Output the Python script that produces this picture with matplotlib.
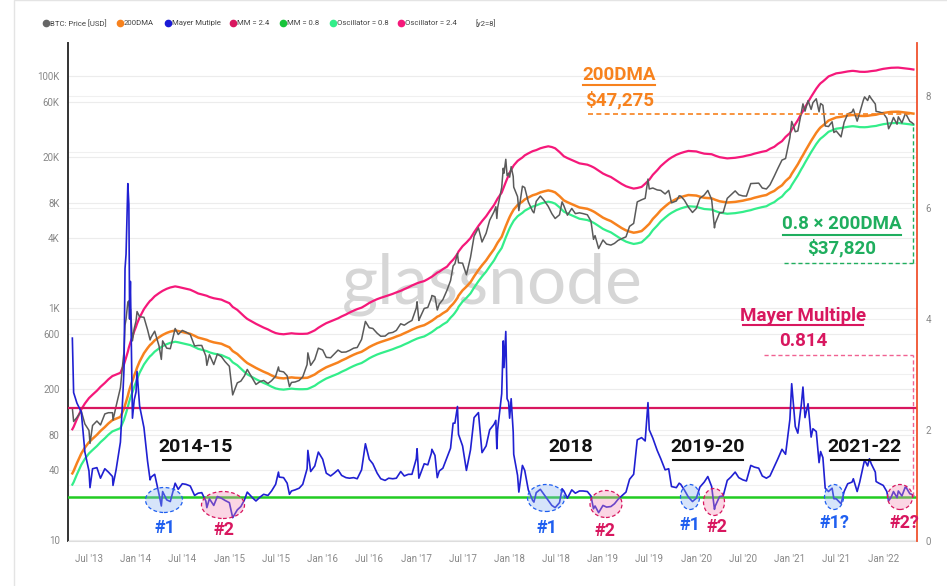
import matplotlib
matplotlib.use("Agg")
import matplotlib.pyplot as plt
import pandas as pd
from matplotlib.patches import Ellipse, Rectangle
from matplotlib.lines import Line2D

# ---- data (BTC price / 200DMA / Mayer multiple) ----
dates = [
    # 2013
    '2013-04-27', '2013-05-02', '2013-05-15', '2013-06-01', '2013-06-15', '2013-07-01', '2013-07-05',
    '2013-07-15', '2013-08-01', '2013-08-15', '2013-09-01', '2013-09-15', '2013-10-01', '2013-10-03',
    '2013-10-15', '2013-11-01', '2013-11-10', '2013-11-15', '2013-11-19', '2013-11-23', '2013-11-30',
    '2013-12-04', '2013-12-07', '2013-12-10', '2013-12-18', '2013-12-25',
    # 2014
    '2014-01-01', '2014-01-05', '2014-01-15', '2014-02-01', '2014-02-15', '2014-02-25', '2014-03-01',
    '2014-03-15', '2014-04-01', '2014-04-10', '2014-04-15', '2014-05-01', '2014-05-15', '2014-06-03',
    '2014-06-15', '2014-07-01', '2014-07-15', '2014-08-01', '2014-08-18', '2014-09-01', '2014-09-15',
    '2014-10-01', '2014-10-05', '2014-10-15', '2014-11-01', '2014-11-15', '2014-12-01', '2014-12-15',
    # 2015
    '2015-01-01', '2015-01-14', '2015-02-01', '2015-02-15', '2015-03-01', '2015-03-12', '2015-04-01',
    '2015-04-15', '2015-05-01', '2015-05-15', '2015-06-01', '2015-06-15', '2015-07-01', '2015-07-12',
    '2015-07-15', '2015-08-01', '2015-08-15', '2015-08-24', '2015-09-01', '2015-09-15', '2015-10-01',
    '2015-10-15', '2015-11-01', '2015-11-04', '2015-11-15', '2015-12-01', '2015-12-15',
    # 2016
    '2016-01-01', '2016-01-15', '2016-02-01', '2016-02-15', '2016-03-01', '2016-03-15', '2016-04-01',
    '2016-04-15', '2016-05-01', '2016-05-15', '2016-06-01', '2016-06-16', '2016-07-01', '2016-07-15',
    '2016-08-01', '2016-08-15', '2016-09-01', '2016-09-15', '2016-10-01', '2016-10-15', '2016-11-01',
    '2016-11-15', '2016-12-01', '2016-12-15',
    # 2017
    '2017-01-01', '2017-01-04', '2017-01-11', '2017-01-15', '2017-02-01', '2017-02-15', '2017-03-01',
    '2017-03-03', '2017-03-15', '2017-03-24', '2017-04-01', '2017-04-15', '2017-05-01', '2017-05-15',
    '2017-05-25', '2017-06-01', '2017-06-11', '2017-06-15', '2017-07-01', '2017-07-16', '2017-08-01',
    '2017-08-15', '2017-09-01', '2017-09-15', '2017-10-01', '2017-10-15', '2017-11-01', '2017-11-08',
    '2017-11-12', '2017-11-15', '2017-12-01', '2017-12-07', '2017-12-10', '2017-12-17', '2017-12-22',
    '2017-12-28',
    # 2018
    '2018-01-01', '2018-01-07', '2018-01-15', '2018-01-17', '2018-02-01', '2018-02-06', '2018-02-20',
    '2018-03-01', '2018-03-15', '2018-04-01', '2018-04-06', '2018-04-15', '2018-05-01', '2018-05-15',
    '2018-06-01', '2018-06-15', '2018-06-28', '2018-07-15', '2018-07-25', '2018-08-01', '2018-08-15',
    '2018-09-01', '2018-09-15', '2018-10-01', '2018-10-15', '2018-11-01', '2018-11-15', '2018-11-25',
    '2018-12-01', '2018-12-15',
    # 2019
    '2019-01-01', '2019-01-15', '2019-02-01', '2019-02-15', '2019-03-01', '2019-03-15', '2019-04-01',
    '2019-04-15', '2019-05-01', '2019-05-15', '2019-06-01', '2019-06-15', '2019-06-26', '2019-07-01',
    '2019-07-15', '2019-08-01', '2019-08-15', '2019-09-01', '2019-09-15', '2019-09-26', '2019-10-15',
    '2019-10-26', '2019-11-01', '2019-11-15', '2019-12-01', '2019-12-17',
    # 2020
    '2020-01-01', '2020-01-15', '2020-02-01', '2020-02-15', '2020-03-01', '2020-03-12', '2020-03-15',
    '2020-04-01', '2020-04-15', '2020-05-01', '2020-05-15', '2020-06-01', '2020-06-15', '2020-07-01',
    '2020-07-15', '2020-08-01', '2020-08-15', '2020-09-01', '2020-09-15', '2020-10-01', '2020-10-15',
    '2020-11-01', '2020-11-15', '2020-12-01', '2020-12-15',
    # 2021
    '2021-01-01', '2021-01-08', '2021-01-15', '2021-01-22', '2021-02-01', '2021-02-15', '2021-02-21',
    '2021-03-01', '2021-03-13', '2021-03-25', '2021-04-01', '2021-04-14', '2021-04-25', '2021-05-01',
    '2021-05-10', '2021-05-19', '2021-06-01', '2021-06-15', '2021-06-22', '2021-07-01', '2021-07-20',
    '2021-08-01', '2021-08-15', '2021-09-01', '2021-09-06', '2021-09-21', '2021-10-01', '2021-10-15',
    '2021-10-20', '2021-11-01', '2021-11-08', '2021-11-15', '2021-12-01', '2021-12-04', '2021-12-15',
    # 2022
    '2022-01-01', '2022-01-15', '2022-01-22', '2022-02-01', '2022-02-10', '2022-02-24', '2022-03-01',
    '2022-03-15', '2022-03-28', '2022-04-01', '2022-04-15', '2022-04-22', '2022-04-29',
]

price = [
    137, 105, 114, 129, 100, 88, 68, 97, 106, 98, 122, 125, 125, 108, 142, 205, 330, 420, 710, 800,
    1125, 1150, 800, 980, 520, 665,
    770, 930, 840, 830, 650, 530, 560, 630, 470, 360, 520, 450, 445, 665, 590, 640, 620, 590, 470,
    475, 475, 385, 320, 395, 325, 400, 380, 345,
    314, 178, 226, 234, 260, 295, 247, 219, 232, 237, 223, 236, 258, 310, 286, 281, 260, 210, 228,
    230, 237, 255, 325, 410, 320, 360, 450,
    434, 375, 372, 400, 433, 415, 417, 430, 450, 456, 535, 765, 675, 665, 605, 570, 572, 606, 615,
    640, 730, 710, 750, 780,
    1000, 1130, 780, 820, 990, 1010, 1220, 1280, 1250, 960, 1080, 1180, 1420, 1720, 2300, 2400, 2950,
    2450, 2430, 1930, 2730, 4150, 4900, 3700, 4400, 5700, 6750, 7450, 5900, 7300, 10900, 16000,
    14500, 19100, 13800, 14500,
    13400, 16500, 13600, 11000, 9100, 6900, 11200, 10900, 8200, 6800, 6600, 8300, 9200, 8500, 7500,
    6500, 5900, 6350, 8200, 7600, 6300, 7200, 6500, 6600, 6500, 6350, 5600, 3900, 4200, 3250,
    3850, 3550, 3480, 3600, 3820, 3950, 4100, 5050, 5350, 8200, 8550, 8800, 12900, 10600, 10800,
    10400, 10300, 9600, 10300, 8050, 8350, 9250, 9200, 8500, 7400, 6650,
    7200, 8800, 9400, 10300, 8600, 4900, 5360, 6600, 6650, 8800, 9400, 10200, 9450, 9230, 9200,
    11800, 11850, 11900, 10800, 10600, 11500, 13700, 15950, 18800, 19400,
    29400, 40500, 36800, 33000, 33500, 48700, 57400, 49600, 61200, 51400, 58700, 63500, 49000,
    57800, 55800, 37000, 36600, 40200, 32500, 33500, 29800, 39800, 47000, 48800, 51700, 40700,
    48100, 61500, 65900, 61300, 67500, 63800, 57200, 49400, 48900,
    47700, 43100, 35000, 38700, 43800, 38300, 44400, 39300, 47100, 46300, 40500, 39700, 38480,
]

dma200 = [
    37.5, 39.3, 46, 55.6, 62.5, 69.6, 71, 74.5, 80.6, 87, 94, 101, 108, 108.3, 111, 115, 128, 136,
    145, 155, 175, 190, 200, 210, 235, 262,
    287, 305, 345, 407, 450, 480, 487, 525, 559, 575, 585, 609, 625, 639, 632, 620, 610, 598, 575,
    555, 545, 532, 530, 518, 505, 498, 491, 475,
    458, 425, 401, 375, 351, 335, 316, 304, 292, 282, 272, 262, 253, 250, 249, 247, 249, 250, 252,
    250, 249, 249, 250, 251, 257, 267, 281,
    296, 308, 319, 329, 339, 352, 366, 380, 395, 407, 419, 438, 460, 477, 496, 509, 523, 536, 551,
    567, 585, 605, 627, 650,
    676, 680, 688, 693, 710, 738, 770, 775, 810, 840, 855, 900, 945, 1030, 1085, 1134, 1220, 1275,
    1418, 1525, 1667, 1870, 2122, 2330, 2568, 2850, 3210, 3430, 3550, 3650, 4107, 4450, 4650, 5070,
    5400, 5800,
    6070, 6450, 6950, 7050, 7700, 7850, 8250, 8600, 8950, 9350, 9420, 9550, 9900, 10100, 10300,
    10150, 9900, 9200, 8750, 8450, 8150, 7850, 7600, 7340, 7250, 7150, 6950, 6780, 6660, 6350,
    6000, 5800, 5600, 5350, 5100, 4880, 4660, 4550, 4450, 4500, 4600, 4900, 5180, 5300, 5850, 6400,
    6950, 7500, 7950, 8250, 8700, 8900, 9000, 9200, 9400, 9350,
    9300, 9100, 8900, 8850, 8800, 8600, 8550, 8300, 8200, 8100, 8150, 8200, 8300, 8400, 8550, 8700,
    8900, 9100, 9250, 9400, 9800, 10200, 10800, 11400, 12400,
    13400, 14300, 15100, 16000, 17300, 19700, 20700, 22300, 24800, 27500, 29100, 32300, 34800,
    36000, 37300, 38800, 41200, 42400, 43000, 43800, 44400, 44900, 45500, 46000, 46000, 45600,
    45200, 45100, 45100, 45300, 45600, 45800, 46200, 46300, 47000,
    47900, 48400, 48600, 48900, 49000, 49100, 49100, 48700, 48400, 48300, 47800, 47500, 47275,
]

mayer = [
    3.65, 2.67, 2.48, 2.32, 1.60, 1.26, 0.96, 1.30, 1.32, 1.13, 1.30, 1.24, 1.16, 1.00, 1.28, 1.78,
    2.58, 3.09, 4.90, 5.16, 6.43, 6.05, 4.00, 4.67, 2.21, 2.54,
    2.68, 3.05, 2.43, 2.04, 1.44, 1.10, 1.15, 1.20, 0.84, 0.63, 0.89, 0.74, 0.71, 1.04, 0.93, 1.03,
    1.02, 0.99, 0.82, 0.86, 0.87, 0.72, 0.60, 0.76, 0.64, 0.80, 0.77, 0.73,
    0.69, 0.42, 0.56, 0.62, 0.74, 0.88, 0.78, 0.72, 0.79, 0.84, 0.82, 0.90, 1.02, 1.24, 1.15, 1.14,
    1.04, 0.84, 0.90, 0.92, 0.95, 1.02, 1.30, 1.63, 1.25, 1.35, 1.60,
    1.47, 1.22, 1.17, 1.22, 1.28, 1.18, 1.14, 1.13, 1.14, 1.12, 1.28, 1.75, 1.47, 1.39, 1.22, 1.12,
    1.09, 1.13, 1.12, 1.13, 1.25, 1.17, 1.20, 1.20,
    1.48, 1.66, 1.13, 1.18, 1.39, 1.37, 1.58, 1.65, 1.54, 1.14, 1.26, 1.31, 1.50, 1.67, 2.12, 2.12,
    2.42, 1.92, 1.71, 1.27, 1.64, 2.22, 2.31, 1.59, 1.71, 2.00, 2.10, 2.17, 1.66, 2.00, 2.65, 3.60,
    3.12, 3.77, 2.56, 2.50,
    2.21, 2.56, 1.96, 1.56, 1.18, 0.88, 1.36, 1.27, 0.92, 0.73, 0.70, 0.87, 0.93, 0.84, 0.73, 0.64,
    0.60, 0.69, 0.94, 0.90, 0.77, 0.92, 0.86, 0.90, 0.90, 0.89, 0.81, 0.58, 0.63, 0.51,
    0.64, 0.61, 0.62, 0.67, 0.75, 0.81, 0.88, 1.11, 1.20, 1.82, 1.86, 1.80, 2.49, 2.00, 1.85, 1.63,
    1.48, 1.28, 1.30, 0.98, 0.96, 1.04, 1.02, 0.92, 0.79, 0.71,
    0.77, 0.97, 1.06, 1.16, 0.98, 0.57, 0.63, 0.80, 0.81, 1.09, 1.15, 1.24, 1.14, 1.10, 1.08, 1.36,
    1.33, 1.31, 1.17, 1.13, 1.17, 1.34, 1.48, 1.65, 1.56,
    2.19, 2.83, 2.44, 2.06, 1.94, 2.47, 2.77, 2.22, 2.47, 1.87, 2.02, 1.97, 1.41, 1.61, 1.50, 0.95,
    0.89, 0.95, 0.76, 0.76, 0.67, 0.89, 1.03, 1.06, 1.12, 0.89, 1.06, 1.36, 1.46, 1.35, 1.48, 1.39,
    1.24, 1.07, 1.04,
    1.00, 0.89, 0.72, 0.79, 0.89, 0.78, 0.90, 0.81, 0.97, 0.96, 0.85, 0.84, 0.814,
]

mm_high = 2.4
mm_low = 0.8
dma_last = 47275
band_last = 37820
mm_last = 0.814

x_tick_dates = ['2013-07-01', '2014-01-01', '2014-07-01', '2015-01-01', '2015-07-01', '2016-01-01',
                '2016-07-01', '2017-01-01', '2017-07-01', '2018-01-01', '2018-07-01', '2019-01-01',
                '2019-07-01', '2020-01-01', '2020-07-01', '2021-01-01', '2021-07-01', '2022-01-01']
x_tick_labels = ["Jul '13", "Jan '14", "Jul '14", "Jan '15", "Jul '15", "Jan '16", "Jul '16",
                 "Jan '17", "Jul '17", "Jan '18", "Jul '18", "Jan '19", "Jul '19", "Jan '20",
                 "Jul '20", "Jan '21", "Jul '21", "Jan '22"]
price_ticks = [10, 40, 80, 200, 600, 1000, 4000, 8000, 20000, 60000, 100000]
price_tick_labels = ['10', '40', '80', '200', '600', '1K', '4K', '8K', '20K', '60K', '100K']
mm_ticks = [0, 2, 4, 6, 8]

# ---- style ----
C_PRICE = '#5a5a5a'
C_DMA = '#f7821e'
C_MM = '#2020d2'
C_MMHI = '#d8175f'
C_MMLO = '#22cc22'
C_OSCLO = '#33ee8a'
C_OSCHI = '#f5187a'
C_GREEN_TXT = '#1fae5e'
C_BLUE_TXT = '#1f5ff0'
FONT = ['Roboto', 'DejaVu Sans']

W, H = 947, 586
fig = plt.figure(figsize=(W / 100, H / 100), dpi=100)
fig.patch.set_facecolor('white')


def fx(x):
    return x / W


def fy(y):
    return 1 - y / H


ax = fig.add_axes([fx(68), fy(541), (917 - 68) / W, (541 - 43) / H])
ax2 = ax.twinx()

t = pd.to_datetime(dates)
dma_s = pd.Series(dma200, dtype=float)

ax.set_yscale('log')
ax.set_ylim(9.8, 192000)
ax2.set_ylim(0, 8.96)
ax.set_xlim(pd.Timestamp('2013-04-10'), pd.Timestamp('2022-05-13'))

# grid (kept on the bottom axes so it stays under all lines)
for v in price_ticks:
    ax.axhline(v, color='#ececec', lw=0.8, zorder=0)
for v in range(0, 9):
    ax.plot([0, 1], [v / 8.96] * 2, transform=ax.transAxes, color='#f0f0f0', lw=0.8, zorder=0)

# watermark
ax.text(0.5, 0.515, 'glassnode', transform=ax.transAxes, ha='center', va='center',
        fontsize=50, color='#d6d6d6', family=['Lato', 'DejaVu Sans'], zorder=0.5)

# price-axis series
ax.plot(t, dma_s * 2.4, color=C_OSCHI, lw=1.6, zorder=2)
ax.plot(t, dma_s * 0.8, color=C_OSCLO, lw=1.6, zorder=2)
ax.plot(t, dma200, color=C_DMA, lw=1.8, zorder=3)
ax.plot(t, price, color=C_PRICE, lw=1.1, zorder=4)

# mayer multiple axis
ax2.axhline(mm_high, color=C_MMHI, lw=1.6, zorder=2)
ax2.axhline(mm_low, color=C_MMLO, lw=1.8, zorder=2)
ax2.plot(t, mayer, color=C_MM, lw=1.2, zorder=3)

# dashed guides to the latest values
t_end = t[-1]
ax.hlines(dma_last, pd.Timestamp('2018-11-03'), t_end, colors=C_DMA, lw=1.2, linestyles=(0, (3, 2)), zorder=5)
ax.vlines(t_end, 2440, band_last, colors=C_GREEN_TXT, lw=1.0, linestyles=(0, (3, 2)), zorder=5)
ax.hlines(2440, pd.Timestamp('2020-12-09'), t_end, colors=C_GREEN_TXT, lw=1.0, linestyles=(0, (3, 2)), zorder=5)
ax2.vlines(t_end, mm_last, 3.35, colors='#f06292', lw=1.0, linestyles=(0, (3, 2)), zorder=5)
ax2.hlines(3.35, pd.Timestamp('2020-09-22'), t_end, colors='#f06292', lw=1.0, linestyles=(0, (3, 2)), zorder=5)

# axes cosmetics
ax.set_yticks(price_ticks)
ax.set_yticklabels(price_tick_labels)
ax.minorticks_off()
ax.set_xticks(pd.to_datetime(x_tick_dates))
ax.set_xticklabels(x_tick_labels)
ax2.set_yticks(mm_ticks)
ax2.set_yticklabels([str(v) for v in mm_ticks])
for a in (ax, ax2):
    a.tick_params(length=0, labelsize=7, labelcolor='#888888', pad=6)
    for lab in a.get_xticklabels() + a.get_yticklabels():
        lab.set_family(FONT)
    a.spines['top'].set_visible(False)
ax.tick_params(axis='x', pad=9)
ax.spines['left'].set_color('#333333')
ax.spines['left'].set_linewidth(1.4)
ax.spines['bottom'].set_color('#dddddd')
ax.spines['right'].set_visible(False)
ax2.spines['left'].set_visible(False)
ax2.spines['bottom'].set_visible(False)
ax2.spines['right'].set_color('#f0522e')
ax2.spines['right'].set_linewidth(1.3)

# card outline
fig.add_artist(Rectangle((fx(14), fy(600)), 1, 600 / H, transform=fig.transFigure,
                         fill=False, edgecolor='#e4e4e4', lw=1))

# legend row
legend_items = [
    ('BTC: Price [USD]', '#666666', 46),
    ('200DMA', C_DMA, 120),
    ('Mayer Mutiple', '#1a1ad6', 168),
    ('MM = 2.4', C_MMHI, 233),
    ('MM = 0.8', '#18c43a', 283),
    ('Oscillator = 0.8', C_OSCLO, 333),
    ('Oscillator = 2.4', C_OSCHI, 401),
]
for label, col, x in legend_items:
    fig.add_artist(Line2D([fx(x)], [fy(23)], marker='o', ms=4.5, color=col, transform=fig.transFigure))
    fig.text(fx(x + 4), fy(23), label, va='center', ha='left', fontsize=5.6, color='#444444', family=FONT)
fig.text(fx(475), fy(23), '[y2=8]', va='center', ha='left', fontsize=5.6, color='#444444', family=FONT)


def label(x, y, s, color, size, underline=None):
    fig.text(fx(x), fy(y), s, ha='center', va='center', fontsize=size, color=color,
             fontweight='bold', family=FONT)
    if underline:
        x1, x2, yu = underline
        fig.add_artist(Line2D([fx(x1), fx(x2)], [fy(yu)] * 2, color=color, lw=1.5,
                              transform=fig.transFigure))


# value call-outs
label(619, 75, '200DMA', C_DMA, 13.5, (583, 655, 85))
label(620, 100, '$47,275', C_DMA, 13.5)
label(842, 224, '0.8 × 200DMA', C_GREEN_TXT, 13.5, (783, 901, 235))
label(842, 248, '$37,820', C_GREEN_TXT, 13.5)
label(803, 316, 'Mayer Multiple', C_MMHI, 13.5, (743, 863, 325))
label(803, 341, '0.814', C_MMHI, 13.5)

# cycle labels
for s, xc, (x1, x2) in [('2014-15', 196, (163, 229)), ('2018', 571, (551, 591)),
                        ('2019-20', 708, (673, 743)), ('2021-22', 864, (831, 898))]:
    label(xc, 447, s, '#111111', 14, (x1, x2, 460))

# circled dips
circles = [
    (164, 500, 37, 25, 'b'), (223, 505, 43, 27, 'r'),
    (546, 498, 37, 27, 'b'), (606, 504, 32, 27, 'r'),
    (690, 497, 19, 25, 'b'), (714, 502, 21, 27, 'r'),
    (834, 497, 19, 25, 'b'), (900, 497, 25, 25, 'r'),
]
for cx, cy, w, h, kind in circles:
    fc = (0.55, 0.70, 0.95, 0.35) if kind == 'b' else (0.96, 0.55, 0.70, 0.35)
    ec = C_BLUE_TXT if kind == 'b' else C_MMHI
    fig.add_artist(Ellipse((fx(cx), fy(cy)), w / W, h / H, transform=fig.transFigure,
                           facecolor=fc, edgecolor=ec, lw=0.9, linestyle=(0, (3, 2))))

for s, xc, yc, kind in [('#1', 165, 528, 'b'), ('#2', 224, 530, 'r'),
                        ('#1', 547, 528, 'b'), ('#2', 605, 531, 'r'),
                        ('#1', 690, 525, 'b'), ('#2', 717, 527, 'r'),
                        ('#1?', 834, 523, 'b'), ('#2?', 904, 523, 'r')]:
    label(xc, yc, s, C_BLUE_TXT if kind == 'b' else C_MMHI, 13)

fig.savefig('out.png', dpi=100)
